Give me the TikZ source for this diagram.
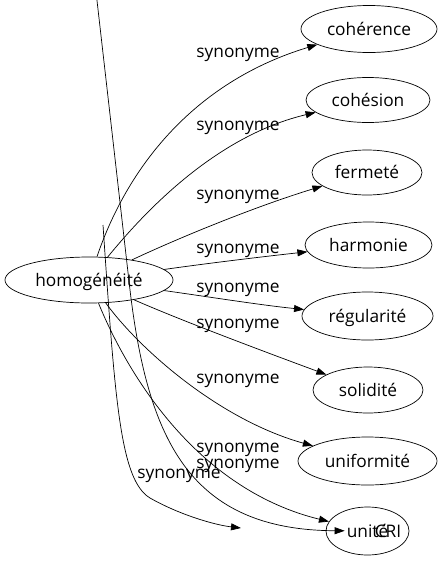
\documentclass[tikz,border=0pt]{standalone}
\usepackage{fontspec}
\setmainfont{Open Sans}
\usepackage{tikz}
\usetikzlibrary{arrows.meta,shapes.geometric}

\begin{document}
\begin{tikzpicture}[x=1pt,y=-1pt,
      every node/.append style={font=\fontsize{17.3}{20}\selectfont},
      word/.style={draw=black,ellipse,line width=0.7pt,inner sep=0pt,text height=12.5pt,text depth=0pt},
      rel/.style={anchor=base,inner sep=0pt},
      syn/.style={-{Triangle[length=10pt,width=7pt]},line width=0.7pt}]
    \useasboundingbox (0,0) rectangle (443,563);
    \node (ROOT) [word,minimum width=168pt,minimum height=46pt] at (89,280) {homogénéité};
    \node (coherence) [word,minimum width=136pt,minimum height=47pt] at (369,29) {cohérence};
    \node (cohesion) [word,minimum width=124pt,minimum height=45pt] at (368,100) {cohésion};
    \node (fermete) [word,minimum width=110pt,minimum height=45pt] at (367,172.5) {fermeté};
    \node (harmonie) [word,minimum width=127pt,minimum height=46pt] at (368.5,245) {harmonie};
    \node (regularite) [word,minimum width=131pt,minimum height=48pt] at (367.5,316) {régularité};
    \node (solidite) [word,minimum width=110pt,minimum height=46pt] at (368,390) {solidité};
    \node (uniformite) [word,minimum width=139pt,minimum height=48pt] at (367.5,461) {uniformité};
    \node (unite) [word,minimum width=83pt,minimum height=48pt] at (367.5,531) {unité};
    \node (CRI) [word,draw=none,minimum width=86pt,minimum height=48pt] at (388,531) {CRI};
    \coordinate (above) at (95.8,-10);
    \coordinate (loose) at (103,225);
    \coordinate (nowhere) at (241,528);
    % edges from the root
    \draw[syn] (ROOT) .. controls (130,160) and (200,80) .. (coherence);
    \draw[syn] (ROOT) .. controls (150,205) and (220,135) .. (cohesion);
    \draw[syn] (ROOT) .. controls (185,235) and (260,205) .. (fermete);
    \draw[syn] (ROOT) .. controls (210,263) and (260,257) .. (harmonie);
    \draw[syn] (ROOT) .. controls (210,297) and (260,305) .. (regularite);
    \draw[syn] (ROOT) .. controls (180,320) and (260,350) .. (solidite);
    \draw[syn] (ROOT) .. controls (140,350) and (220,420) .. (uniformite);
    \draw[syn] (ROOT) .. controls (130,380) and (200,490) .. (unite);
    % the two stray ones
    \draw[syn] (above) -- (130,290) .. controls (148,440) and (190,530) .. (CRI);
    \draw[syn] (loose) .. controls (115,400) and (120,480) .. (150,498)
      .. controls (180,515) and (215,525) .. (nowhere);
    % labels
    \node (l1) [rel] at (238,57) {synonyme};
    \node (l2) [rel] at (238,130.5) {synonyme};
    \node (l3) [rel] at (238,199) {synonyme};
    \node (l4) [rel] at (238,253) {synonyme};
    \node (l5) [rel] at (238,292) {synonyme};
    \node (l6) [rel] at (238,328) {synonyme};
    \node (l7) [rel] at (238,383) {synonyme};
    \node (l8) [rel] at (238,452) {synonyme};
    \node (l9) [rel] at (238,468) {synonyme};
    \node (l10) [rel] at (179,478) {synonyme};
  \end{tikzpicture}
\end{document}
